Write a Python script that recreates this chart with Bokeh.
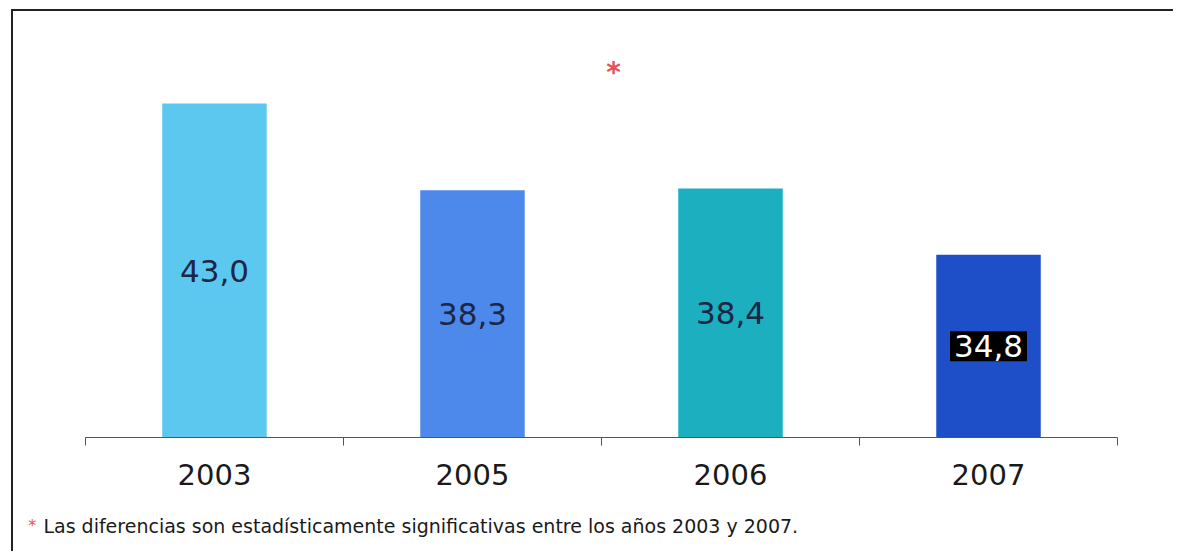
from bokeh.plotting import figure
from bokeh.models import (ColumnDataSource, Range1d, LinearAxis, FixedTicker,
                          CustomJSTickFormatter, Label)
from bokeh.layouts import column
from bokeh.core.properties import value
from bokeh.embed import file_html
from bokeh.resources import INLINE

# ---- data ----
years = ["2003", "2005", "2006", "2007"]
values = [43.0, 38.3, 38.4, 34.8]
bar_colors = ["#5CC8F0", "#4C89EA", "#1BAFBF", "#1F4FC8"]
label_text_colors = ["#1C2645", "#1C2645", "#1C2645", "#FFFFFF"]
label_bg_alpha = [0.0, 0.0, 0.0, 1.0]
footnote_mark = "*"
footnote = "Las diferencias son estadísticamente significativas entre los años 2003 y 2007."

Y_START = 24.9
Y_END = 47.5
FONT = "DejaVu Sans"
W = 1160
H_MAIN = 493
H_NOTE = 47

n = len(years)
centers = [i + 0.5 for i in range(n)]          # category slot centres
labels = [f"{v:.1f}".replace(".", ",") for v in values]
mids = [(Y_START + v) / 2 for v in values]

src = ColumnDataSource(dict(x=centers, year=years, val=values, color=bar_colors, lab=labels, mid=mids,
                            tcol=label_text_colors, bga=label_bg_alpha))

# x range padded so the category block (0..n) sits inside a wide frame
xr = Range1d(-0.279, n + 0.217)

p = figure(width=W, height=H_MAIN, x_range=xr,
           y_range=Range1d(Y_START, Y_END), output_backend="svg", toolbar_location=None,
           x_axis_location=None, y_axis_location=None,
           min_border_left=0, min_border_right=0, min_border_top=9, min_border_bottom=67)
p.outline_line_color = None
p.xgrid.visible = False
p.ygrid.visible = False
p.background_fill_color = "white"
p.border_fill_color = "white"

# axis line with ticks at category boundaries
ax1 = LinearAxis(ticker=FixedTicker(ticks=list(range(n + 1)), minor_ticks=[]),
                 formatter=CustomJSTickFormatter(code="return ''"), bounds=(0, n),
                 major_tick_out=8, major_tick_in=0, major_tick_line_color="#555555",
                 minor_tick_line_color=None, axis_line_color="#555555", axis_line_width=1,
                 major_label_standoff=0, major_label_text_font_size="1px")
p.add_layout(ax1, "below")

# category labels at slot centres
ax2 = LinearAxis(ticker=FixedTicker(ticks=centers, minor_ticks=[]),
                 formatter=CustomJSTickFormatter(args=dict(years=years),
                                                 code="const i = Math.floor(tick); return (i >= 0 && i < years.length) ? years[i] : '';"),
                 axis_line_color=None, major_tick_line_color=None, minor_tick_line_color=None,
                 major_label_text_font=FONT, major_label_text_font_size="29px",
                 major_label_text_color="#1a1a1a", major_label_standoff=12)
p.add_layout(ax2, "below")

p.vbar(x="x", top="val", bottom=Y_START, width=0.405, fill_color="color", line_color=None, source=src)

p.text(x="x", y="mid", text="lab", source=src, text_align="center", text_baseline="middle",
       text_font=value(FONT), text_font_size="31px", text_color="tcol",
       background_fill_color="black", background_fill_alpha="bga", padding=4)

# significance marker
p.add_layout(Label(x=2.047, y=44.7, text="*", text_color="#E8505A",
                   text_font=FONT, text_font_size="28px", text_font_style="bold",
                   text_align="center", text_baseline="middle"))

# footnote panel (shares the x range)
note = figure(width=W, height=H_NOTE, x_range=xr, y_range=Range1d(0, H_NOTE),
              output_backend="svg", toolbar_location=None, x_axis_location=None, y_axis_location=None,
              min_border=0)
note.outline_line_color = None
note.xgrid.visible = False
note.ygrid.visible = False
note.text(x=[-0.222], y=[26], text=[footnote_mark], text_color="#E8505A", text_font=value(FONT),
          text_font_size="16px", text_baseline="middle", text_align="left")
note.text(x=[-0.163], y=[26], text=[footnote], text_color="#1a1a1a", text_font=value(FONT),
          text_font_size="19px", text_baseline="middle", text_align="left")

layout = column(p, note, spacing=0)
layout.styles = {"border-left": "2px solid #222222", "border-top": "2px solid #222222",
                 "margin-left": "11px", "margin-top": "9px"}

open("out.html", "w").write(file_html(layout, INLINE))
